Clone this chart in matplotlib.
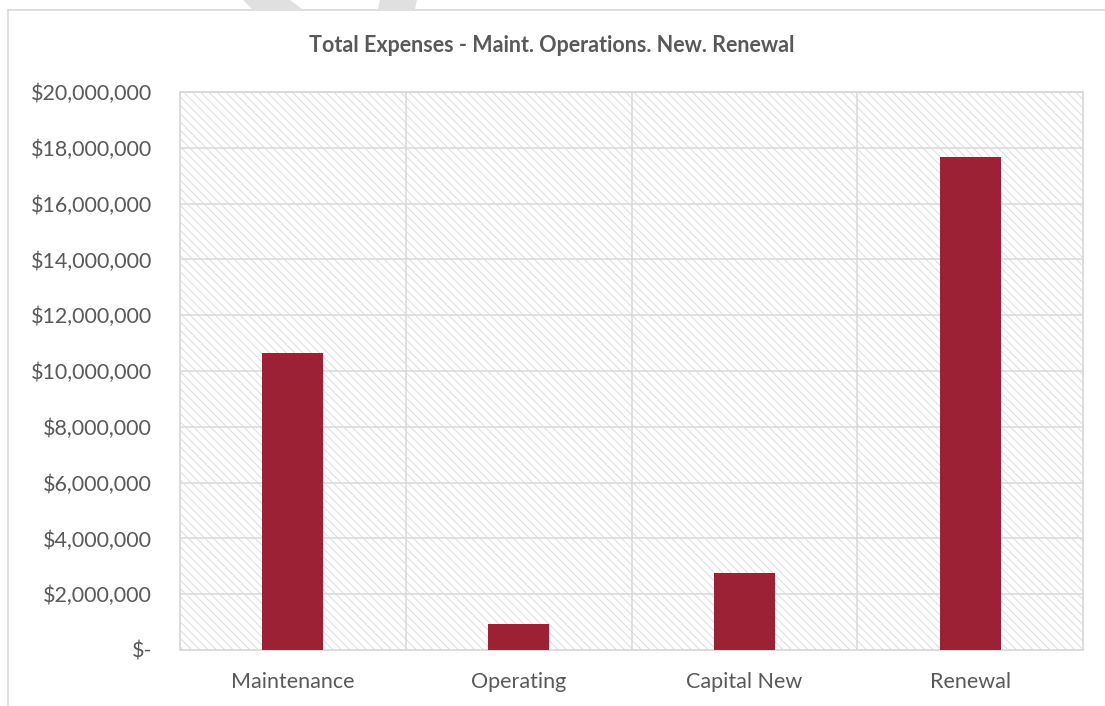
import numpy as np
import matplotlib.pyplot as plt
from matplotlib.patches import Rectangle, Polygon
from matplotlib.lines import Line2D
from matplotlib.ticker import FuncFormatter

# datos
categories = ["Maintenance", "Operating", "Capital New", "Renewal"]
expenses = [10660000, 920000, 2750000, 17680000]
y_ticks = np.arange(0, 20000001, 2000000)

TITLE = "Total Expenses - Maint. Operations. New. Renewal"
TEXT_COLOR = "#595959"
GRID_COLOR = "#d9d9d9"
BAR_COLOR = "#9c2134"

plt.rcParams["font.family"] = ["Lato", "DejaVu Sans"]
plt.rcParams["hatch.linewidth"] = 0.7

W, H = 1105, 706
fig = plt.figure(figsize=(W / 100, H / 100), dpi=100)

# marca de agua parcial (arriba) y marco del gráfico
def px(pts):
    return [(x / W, 1 - y / H) for x, y in pts]

for shape in ([(243, 0), (290, 0), (302, 9), (252, 9)],
              [(380, 0), (417, 0), (415, 9), (378, 9)]):
    fig.patches.append(Polygon(px(shape), closed=True, transform=fig.transFigure,
                               facecolor="#e0e0e0", edgecolor="none"))

fig.lines.append(Line2D([8 / W, 1], [1 - 9.5 / H, 1 - 9.5 / H],
                        transform=fig.transFigure, color=GRID_COLOR, lw=1.2))
fig.lines.append(Line2D([8 / W, 8 / W], [0, 1 - 9.5 / H],
                        transform=fig.transFigure, color=GRID_COLOR, lw=1.2))

ax = fig.add_axes([180 / W, 1 - 650 / H, (1083 - 180) / W, (650 - 92) / H])

# fondo rayado del área de trazado
ax.patch.set_visible(False)
ax.add_patch(Rectangle((0, 0), 1, 1, transform=ax.transAxes, facecolor="white",
                       edgecolor="#dcdcdc", lw=0, hatch="\\" * 4, zorder=0))

x = np.arange(len(categories))
ax.bar(x, expenses, width=0.27, color=BAR_COLOR, zorder=3)

ax.set_xlim(-0.5, len(categories) - 0.5)
ax.set_ylim(0, 20000000)
ax.set_yticks(y_ticks)
ax.yaxis.set_major_formatter(FuncFormatter(lambda v, p: "$-" if v == 0 else f"${v:,.0f}"))
ax.set_xticks(x)
ax.set_xticklabels(categories)

# rejilla: horizontales cada 2M, verticales entre categorías
for v in y_ticks[1:]:
    ax.axhline(v, color=GRID_COLOR, lw=1.1, zorder=1)
for b in np.arange(0.5, len(categories) - 0.5, 1):
    ax.axvline(b, color=GRID_COLOR, lw=1.1, zorder=1)

for s in ax.spines.values():
    s.set_color(GRID_COLOR)
    s.set_linewidth(1.3)

ax.tick_params(axis="both", length=0, colors=TEXT_COLOR, labelsize=15.5)
ax.tick_params(axis="y", pad=20)
ax.tick_params(axis="x", pad=16)

fig.text(552 / W, 1 - 46 / H, TITLE, ha="center", va="center",
         fontsize=15.5, fontweight="bold", color=TEXT_COLOR)

fig.savefig("out.png", dpi=100)
